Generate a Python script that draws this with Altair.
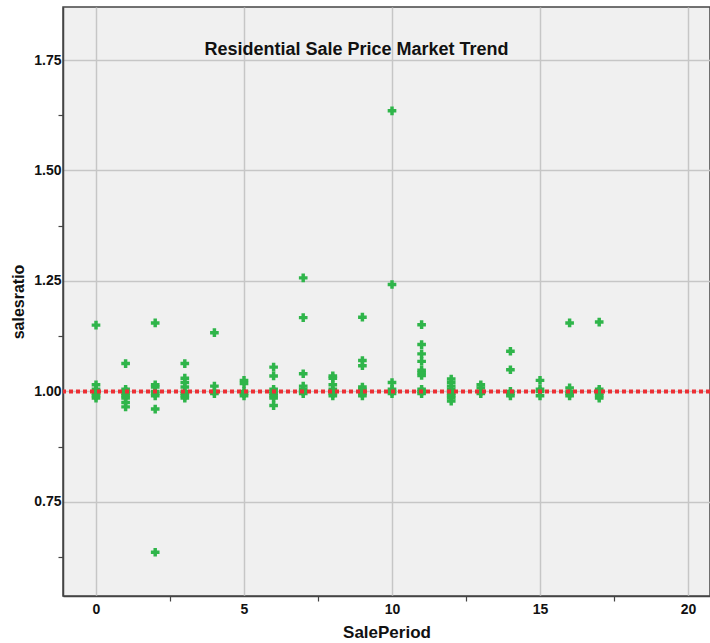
import altair as alt
import pandas as pd

# Sale period of each recorded sale and its sales ratio
sale_period = (
    [0] * 7 + [1] * 8 + [2] * 8 + [3] * 8 + [4] * 4 + [5] * 5 + [6] * 8 + [7] * 7
    + [8] * 7 + [9] * 8 + [10] * 6 + [11] * 10 + [12] * 9 + [13] * 4 + [14] * 5
    + [15] * 4 + [16] * 5 + [17] * 6
)
sales_ratio = [
    1.150, 1.015, 1.005, 1.000, 0.995, 0.990, 0.985,                 # 0
    1.063, 1.005, 1.000, 0.995, 0.990, 0.985, 0.975, 0.965,          # 1
    1.155, 1.015, 1.010, 1.000, 0.995, 0.990, 0.960, 0.636,          # 2
    1.063, 1.030, 1.020, 1.010, 1.000, 0.995, 0.990, 0.985,          # 3
    1.133, 1.012, 1.000, 0.995,                                      # 4
    1.025, 1.018, 1.000, 0.995, 0.990,                               # 5
    1.055, 1.035, 1.005, 1.000, 0.995, 0.990, 0.985, 0.968,          # 6
    1.257, 1.167, 1.040, 1.012, 1.005, 1.000, 0.995,                 # 7
    1.035, 1.030, 1.015, 1.005, 1.000, 0.995, 0.990,                 # 8
    1.168, 1.070, 1.058, 1.010, 1.005, 1.000, 0.995, 0.990,          # 9
    1.635, 1.242, 1.020, 1.005, 1.000, 0.995,                        # 10
    1.151, 1.106, 1.085, 1.068, 1.048, 1.042, 1.036, 1.005, 1.000, 0.995,  # 11
    1.028, 1.020, 1.012, 1.005, 1.000, 0.995, 0.990, 0.985, 0.978,   # 12
    1.015, 1.008, 1.000, 0.995,                                      # 13
    1.091, 1.049, 1.000, 0.995, 0.990,                               # 14
    1.025, 1.005, 1.000, 0.990,                                      # 15
    1.155, 1.008, 1.000, 0.995, 0.990,                               # 16
    1.157, 1.005, 1.000, 0.995, 0.990, 0.985,                        # 17
]
reference_ratio = [1.0]

x_ticks = [0, 2.5, 5, 7.5, 10, 12.5, 15, 17.5, 20]
y_ticks = [0.625, 0.75, 0.875, 1.0, 1.125, 1.25, 1.375, 1.5, 1.625, 1.75]

sales = pd.DataFrame({"SalePeriod": sale_period, "salesratio": sales_ratio})
ref = pd.DataFrame({"ratio": reference_ratio})

label_font = "Liberation Sans Narrow, Liberation Sans, Arial, sans-serif"
x_major = "datum.value % 5 === 0"
y_major = "abs(datum.value * 4 - round(datum.value * 4)) < 0.001"

x_axis = alt.Axis(
    values=x_ticks,
    labelExpr=f"{x_major} ? datum.label : ''",
    labelOverlap=False,
    grid=True,
    gridColor="#c6c6c6",
    gridWidth=1.5,
    gridOpacity={"condition": {"test": x_major, "value": 1}, "value": 0},
    tickOpacity={"condition": {"test": x_major, "value": 0}, "value": 1},
    tickSize=5,
    tickColor="#444444",
    tickWidth=1.2,
    domainColor="#444444",
    domainWidth=1.5,
    labelFont=label_font,
    labelFontSize=14,
    labelFontWeight="bold",
    labelColor="#111111",
    labelPadding=1,
    title="SalePeriod",
    titleFont=label_font,
    titleFontSize=17,
    titleFontWeight="bold",
    titleColor="#111111",
    titlePadding=8,
)

y_axis = alt.Axis(
    values=y_ticks,
    format=".2f",
    labelExpr=f"{y_major} ? datum.label : ''",
    labelOverlap=False,
    grid=True,
    gridColor="#c6c6c6",
    gridWidth=1.5,
    gridOpacity={"condition": {"test": y_major, "value": 1}, "value": 0},
    tickOpacity={"condition": {"test": y_major, "value": 0}, "value": 1},
    tickSize=5,
    tickColor="#444444",
    tickWidth=1.2,
    domainColor="#444444",
    domainWidth=1.5,
    labelFont=label_font,
    labelFontSize=14,
    labelFontWeight="bold",
    labelColor="#111111",
    labelPadding=-3,
    title="salesratio",
    titleFont=label_font,
    titleFontSize=16,
    titleFontWeight="bold",
    titleColor="#111111",
    titlePadding=7,
)

x_scale = alt.Scale(domain=[-1.115, 20.743], nice=False, zero=False)
y_scale = alt.Scale(domain=[0.537, 1.870], nice=False, zero=False)

points = alt.Chart(sales).mark_point(
    shape="cross", filled=True, size=75, color="#2fb54a", opacity=1
).encode(
    x=alt.X("SalePeriod:Q", scale=x_scale, axis=x_axis),
    y=alt.Y("salesratio:Q", scale=y_scale, axis=y_axis),
)

ref_line = alt.Chart(ref).mark_rule(
    color="#ec2f34", strokeWidth=4, strokeDash=[4, 3]
).encode(y=alt.Y("ratio:Q", scale=y_scale))

chart = (
    alt.layer(points, ref_line)
    .properties(
        width=647,
        height=589,
        autosize=alt.AutoSizeParams(type="none"),
        padding={"left": 63, "top": 7, "right": 0, "bottom": 47},
        background="white",
        title=alt.TitleParams(
            "Residential Sale Price Market Trend",
            font="Liberation Sans, Arial, sans-serif",
            fontSize=18,
            fontWeight="bold",
            color="#111111",
            anchor="middle",
            baseline="alphabetic",
            offset=0,
            dx=-30,
            dy=66,
        ),
    )
    .configure_view(fill="#f0f0f0", stroke="#444444", strokeWidth=1.5)
)

chart.save("out.html", embed_options={"renderer": "svg", "actions": False})
